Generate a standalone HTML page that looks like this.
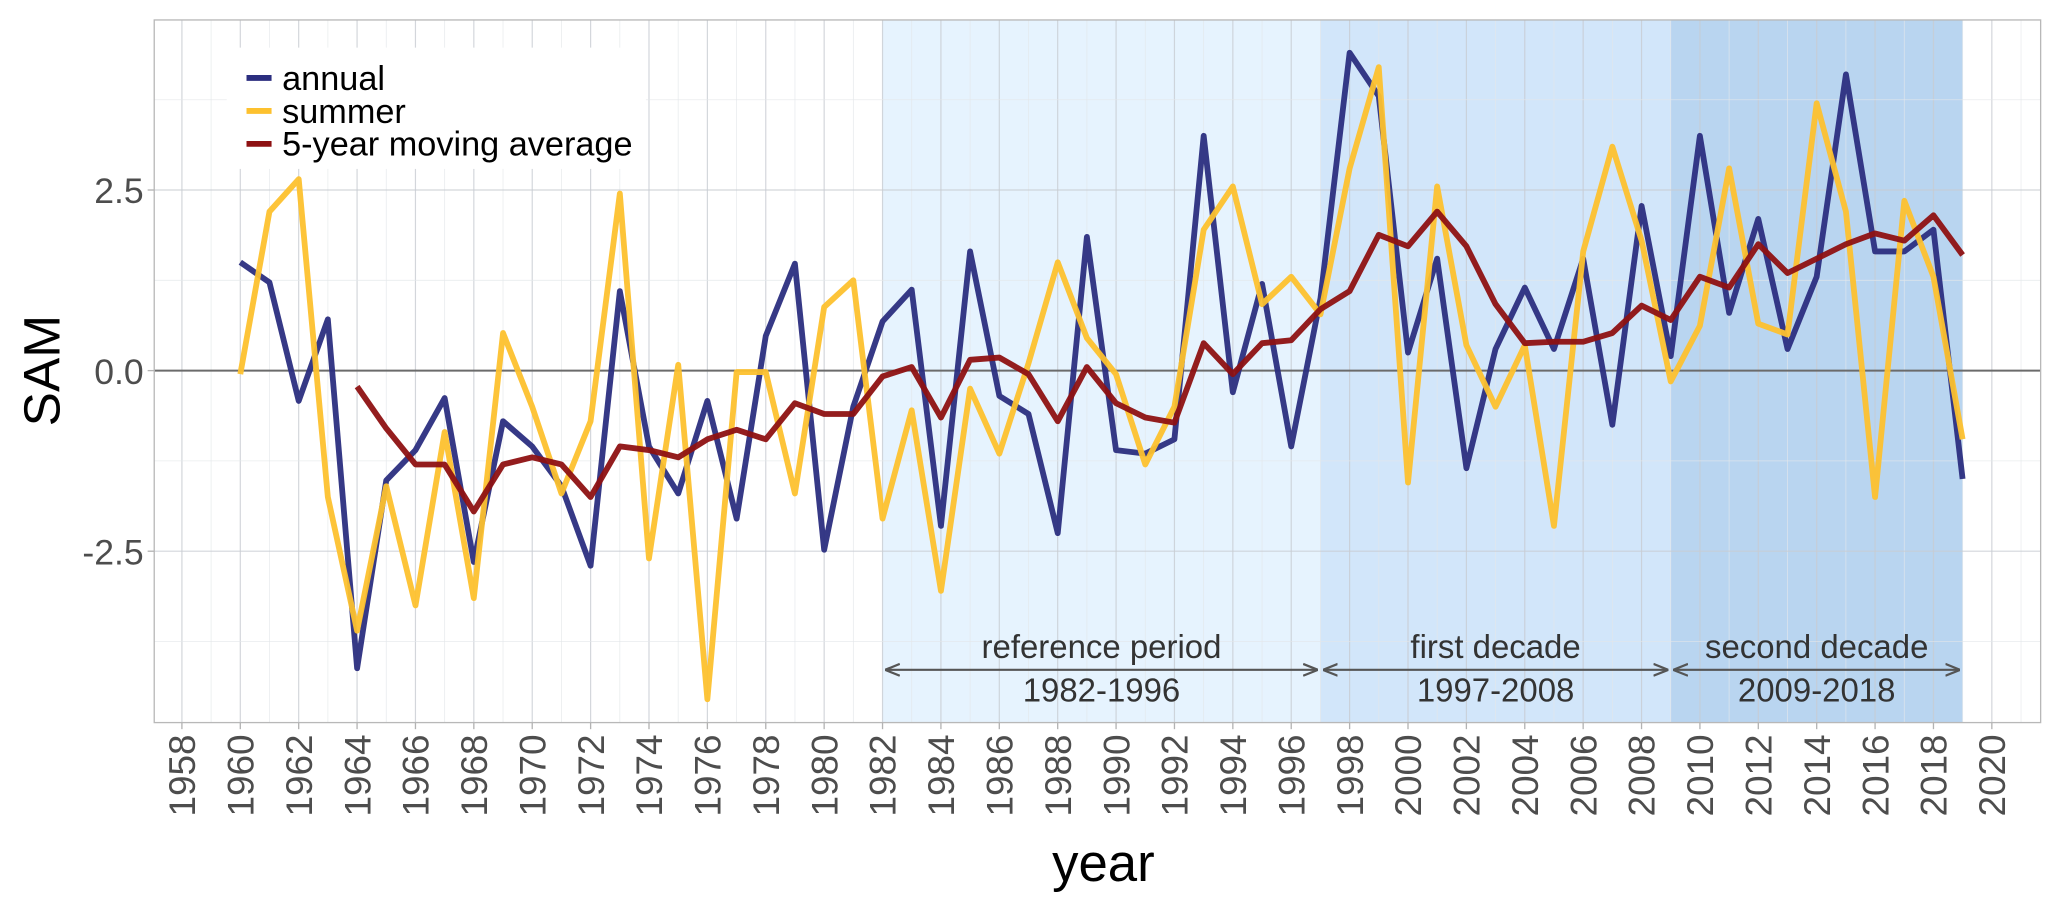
<!DOCTYPE html>
<html><head><meta charset="utf-8"><style>
html,body{margin:0;padding:0;background:#fff;}
svg{display:block;font-family:"Liberation Sans",Arial,sans-serif;}
</style></head><body>
<svg id="chart" width="2067" height="906" viewBox="0 0 1568 687" xmlns="http://www.w3.org/2000/svg">
<g id="shading"></g>
<g id="grid"></g>
<g id="series"></g>
<g id="axes"></g>
<g id="annot"></g>
<g id="legend"></g>
</svg>
<script>
const years = [];
for (let y = 1960; y <= 2019; y++) years.push(y);
const annual = [1.5,1.22,-0.42,0.71,-4.12,-1.52,-1.1,-0.38,-2.65,-0.7,-1.05,-1.6,-2.7,1.1,-1.05,-1.7,-0.42,-2.05,0.48,1.48,-2.48,-0.5,0.68,1.12,-2.15,1.65,-0.35,-0.6,-2.25,1.85,-1.1,-1.15,-0.95,3.25,-0.3,1.2,-1.05,1.0,4.4,3.8,0.25,1.55,-1.35,0.3,1.15,0.3,1.55,-0.75,2.28,0.2,3.25,0.8,2.1,0.3,1.3,4.1,1.65,1.65,1.95,-1.5];
const summer = [-0.05,2.2,2.65,-1.75,-3.6,-1.6,-3.25,-0.85,-3.15,0.52,-0.5,-1.7,-0.7,2.45,-2.6,0.08,-4.55,-0.02,-0.02,-1.7,0.88,1.25,-2.05,-0.55,-3.05,-0.25,-1.15,0.1,1.5,0.45,-0.05,-1.3,-0.5,1.95,2.55,0.92,1.3,0.78,2.8,4.2,-1.55,2.55,0.35,-0.5,0.35,-2.15,1.65,3.1,1.8,-0.15,0.62,2.8,0.65,0.5,3.7,2.2,-1.75,2.35,1.3,-0.95];
const maYears = [];
for (let y = 1964; y <= 2019; y++) maYears.push(y);
const movingAvg = [-0.22,-0.8,-1.3,-1.3,-1.95,-1.3,-1.2,-1.3,-1.75,-1.05,-1.1,-1.2,-0.95,-0.82,-0.95,-0.45,-0.6,-0.6,-0.08,0.05,-0.65,0.15,0.18,-0.05,-0.7,0.05,-0.45,-0.65,-0.72,0.38,-0.05,0.38,0.42,0.85,1.1,1.88,1.72,2.2,1.72,0.92,0.38,0.4,0.4,0.52,0.9,0.7,1.3,1.15,1.75,1.35,1.55,1.75,1.9,1.8,2.15,1.6];
const yTicks = [-2.5, 0, 2.5];
const yTickLabels = ["-2.5", "0.0", "2.5"];
const periodStarts = [1982, 1997, 2009];
const periodEnds = [1997, 2009, 2019];
const periodNames = ["reference period", "first decade", "second decade"];
const periodRanges = ["1982-1996", "1997-2008", "2009-2018"];

const NS = "http://www.w3.org/2000/svg";
const L = 117, R = 1548, T = 15, B = 548;
const X = yr => 138 + (yr - 1958) * 22.145;
const Y = v => 281 - v * 54.8;
function el(tag, attrs, parent, text) {
  const e = document.createElementNS(NS, tag);
  for (const k in attrs) e.setAttribute(k, attrs[k]);
  if (text !== undefined) e.textContent = text;
  parent.appendChild(e);
  return e;
}
const shading = document.getElementById('shading');
const grid = document.getElementById('grid');
const series = document.getElementById('series');
const axes = document.getElementById('axes');
const annot = document.getElementById('annot');
const legend = document.getElementById('legend');
const shadeColors = ["#e6f3fe", "#d2e6fa", "#b9d5f0"];
periodStarts.forEach((s, i) => {
  const r = el('rect', {x: X(s), y: T, width: X(periodEnds[i]) - X(s), height: B - T, fill: shadeColors[i]}, shading);
  
  
});
for (let yr = 1957; yr <= 2021; yr++) {
  const x = X(yr);
  if (x < L || x > R) continue;
  const major = yr % 2 === 0;
  const g = el('line', {x1: x, x2: x, y1: T, y2: B, stroke: major ? '#c8ccd2' : '#e4e7ea', 'stroke-width': major ? 0.9 : 0.6, 'stroke-opacity': 0.8}, grid);
  
  
}
[-3.75, -2.5, -1.25, 1.25, 2.5, 3.75].forEach(v => {
  const major = v % 2.5 === 0;
  const g = el('line', {x1: L, x2: R, y1: Y(v), y2: Y(v), stroke: major ? '#c8ccd2' : '#e4e7ea', 'stroke-width': major ? 0.9 : 0.6, 'stroke-opacity': 0.8}, grid);
  
  
});
const zl = el('line', {x1: L, x2: R, y1: Y(0), y2: Y(0), stroke: '#6b6b6b', 'stroke-width': 1.5}, grid);


function poly(xs, vs, color, name) {
  const pts = xs.map((yr, i) => X(yr).toFixed(1) + ',' + Y(vs[i]).toFixed(1)).join(' ');
  const p = el('polyline', {points: pts, fill: 'none', stroke: color, 'stroke-width': 4.4, 'stroke-linejoin': 'round', 'stroke-opacity': 0.95}, series);
  
  
}
poly(years, annual, '#2b2e7f', 'annual-line');
poly(years, summer, '#fdc12e', 'summer-line');
poly(maYears, movingAvg, '#8e1112', 'moving-average-line');
const frame = el('rect', {x: L, y: T, width: R - L, height: B - T, fill: 'none', stroke: '#b8b8b8', 'stroke-width': 1}, axes);


yTicks.forEach((v, i) => {
  const t = el('line', {x1: L - 5, x2: L, y1: Y(v), y2: Y(v), stroke: '#b3b3b3', 'stroke-width': 1}, axes);
  
  
  const lbl = el('text', {x: L - 8, y: Y(v) + 10, 'text-anchor': 'end', 'font-size': 27, fill: '#4d4d4d'}, axes, yTickLabels[i]);
  
  
});
for (let yr = 1958; yr <= 2020; yr += 2) {
  const x = X(yr);
  const t = el('line', {x1: x, x2: x, y1: B, y2: B + 5, stroke: '#b3b3b3', 'stroke-width': 1}, axes);
  
  
  const lbl = el('text', {x: 0, y: 0, 'text-anchor': 'end', 'font-size': 28, fill: '#4d4d4d', transform: `translate(${x + 10},${B + 9}) rotate(-90)`}, axes, String(yr));
  
  
}
const yt = el('text', {x: 0, y: 0, 'text-anchor': 'middle', 'font-size': 39, fill: '#000', transform: `translate(45,${Y(0)}) rotate(-90)`}, axes, 'SAM');


const xt = el('text', {x: 837, y: 668, 'text-anchor': 'middle', 'font-size': 40, fill: '#000'}, axes, 'year');


const defs = el('defs', {}, annot);
const mk = el('marker', {id: 'ah', viewBox: '0 0 10 10', refX: 9, refY: 5, markerWidth: 7, markerHeight: 7, orient: 'auto-start-reverse'}, defs);
el('path', {d: 'M0,1 L10,5 L0,9', fill: 'none', stroke: '#555', 'stroke-width': 1.5}, mk);
periodStarts.forEach((s, i) => {
  const x1 = X(s) + 3, x2 = X(periodEnds[i]) - 3, cx = (x1 + x2) / 2;
  const a = el('line', {x1: x1, x2: x2, y1: 508, y2: 508, stroke: '#555', 'stroke-width': 1.6, 'marker-start': 'url(#ah)', 'marker-end': 'url(#ah)'}, annot);
  
  
  const n = el('text', {x: cx, y: 499, 'text-anchor': 'middle', 'font-size': 25, fill: '#333'}, annot, periodNames[i]);
  
  
  const r = el('text', {x: cx, y: 532, 'text-anchor': 'middle', 'font-size': 25, fill: '#333'}, annot, periodRanges[i]);
  
  
});
const lb = el('rect', {x: 172, y: 36, width: 318, height: 92, fill: '#fff'}, legend);


const legNames = ['annual', 'summer', '5-year moving average'];
const legColors = ['#2b2e7f', '#fdc12e', '#8e1112'];
legNames.forEach((nm, i) => {
  const y = 59 + i * 25;
  const k = el('line', {x1: 187, x2: 206, y1: y, y2: y, stroke: legColors[i], 'stroke-width': 4.4}, legend);
  
  
  const t = el('text', {x: 214, y: y + 9, 'font-size': 26, fill: '#000'}, legend, nm);
  
  
});
</script>
</body></html>
